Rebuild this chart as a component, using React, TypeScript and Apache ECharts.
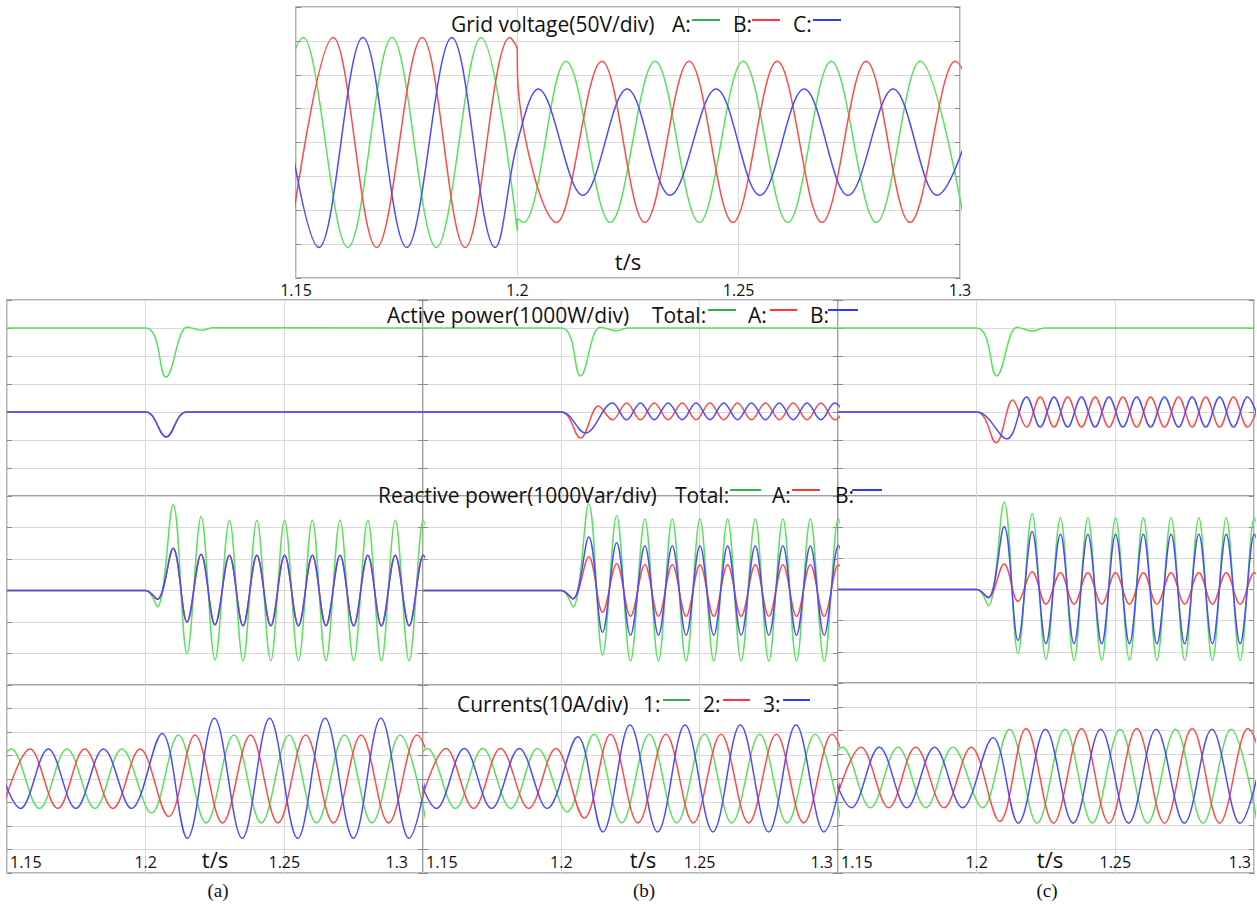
import React, { useEffect, useRef } from 'react';
import * as echarts from 'echarts';

type Pt = [number, number];

// ---------- Grid voltage (V): extremes ----------
const voltA: Pt[] = [
  [1.1416, -155], [1.1516, 155], [1.1617, -155], [1.1717, 155], [1.1817, -155], [1.1918, 155],
  [1.2, -131], [1.2, -112], [1.2014, -118], [1.211, 120], [1.221, -118], [1.2311, 120], [1.2411, -118],
  [1.251, 120], [1.2611, -118], [1.2709, 120], [1.2811, -118], [1.291, 120], [1.301, -118],
];
const voltB: Pt[] = [
  [1.1484, -155], [1.1584, 155], [1.1682, -155], [1.1785, 155], [1.1882, -155], [1.1983, 155],
  [1.2, 136], [1.2, 113], [1.2089, -118], [1.2191, 120], [1.2288, -118], [1.2388, 120], [1.2487, -118],
  [1.2587, 120], [1.2688, -118], [1.2788, 120], [1.2887, -118], [1.2989, 120], [1.3088, -118],
];
const voltC: Pt[] = [
  [1.1452, 155], [1.1552, -155], [1.1651, 155], [1.175, -155], [1.1852, 155], [1.195, -155],
  [1.2, 0], [1.2047, 79], [1.2148, -78], [1.2248, 79], [1.2345, -78], [1.2449, 79], [1.2548, -78],
  [1.2648, 79], [1.2747, -78], [1.2849, 79], [1.2948, -78], [1.3049, 79],
];

// ---------- Active power (W) ----------
const actTotA: Pt[] = [[1.15, 6000], [1.2, 6000], [1.2073, 4250], [1.215, 6040], [1.2201, 5920], [1.2245, 6010], [1.3, 6000]];
const actPhA_A: Pt[] = [[1.15, 3000], [1.2, 3000], [1.2074, 2110], [1.2148, 3000], [1.3, 3000]];
const actPhB_A: Pt[] = [[1.15, 3000], [1.2, 3000], [1.2074, 2110], [1.2148, 3000], [1.3, 3000]];

const actTotB: Pt[] = [[1.15, 6000], [1.2, 6000], [1.2069, 4290], [1.214, 6030], [1.2201, 5900], [1.224, 6000], [1.3, 6000]];
const actPhA_B: Pt[] = [
  [1.15, 3000], [1.2, 3000], [1.2069, 2070], [1.2134, 3210], [1.2185, 2720], [1.2236, 3320], [1.2286, 2720],
  [1.2336, 3320], [1.2386, 2720], [1.2437, 3320], [1.2487, 2720], [1.2537, 3320], [1.2587, 2720], [1.2637, 3320],
  [1.2687, 2720], [1.2738, 3320], [1.2788, 2720], [1.2838, 3320], [1.2888, 2720], [1.2938, 3320], [1.2988, 2720],
  [1.3038, 3320],
];
const actPhB_B: Pt[] = [
  [1.15, 3000], [1.2, 3000], [1.2087, 2250], [1.2185, 3320], [1.2236, 2720], [1.2286, 3320], [1.2336, 2720],
  [1.2386, 3320], [1.2437, 2720], [1.2487, 3320], [1.2537, 2720], [1.2587, 3320], [1.2637, 2720], [1.2687, 3320],
  [1.2738, 2720], [1.2788, 3320], [1.2838, 2720], [1.2888, 3320], [1.2938, 2720], [1.2988, 3320], [1.3038, 2720],
];

const actTotC: Pt[] = [[1.15, 6000], [1.2, 6000], [1.2072, 4290], [1.2146, 6030], [1.2203, 5890], [1.2245, 6000], [1.3, 6000]];
const actPhA_C: Pt[] = [
  [1.15, 3000], [1.2, 3000], [1.207, 1900], [1.213, 3430], [1.218, 2460], [1.2229, 3540], [1.2279, 2460],
  [1.2328, 3540], [1.2378, 2460], [1.2427, 3540], [1.2477, 2460], [1.2527, 3540], [1.2577, 2460], [1.2627, 3540],
  [1.2677, 2460], [1.2728, 3540], [1.2777, 2460], [1.2826, 3540], [1.2876, 2460], [1.2926, 3540], [1.2976, 2460],
  [1.3026, 3540],
];
const actPhB_C: Pt[] = [
  [1.15, 3000], [1.2, 3000], [1.2109, 2040], [1.218, 3540], [1.2229, 2460], [1.2279, 3540], [1.2328, 2460],
  [1.2378, 3540], [1.2427, 2460], [1.2477, 3540], [1.2527, 2460], [1.2577, 3540], [1.2627, 2460], [1.2677, 3540],
  [1.2728, 2460], [1.2777, 3540], [1.2826, 2460], [1.2876, 3540], [1.2926, 2460], [1.2976, 3540], [1.3026, 2460],
];

// ---------- Reactive power (Var): shared extreme times ----------
const reactT = [1.15, 1.2, 1.2042, 1.2099, 1.2149, 1.22, 1.225, 1.2302, 1.2351, 1.2401, 1.2451, 1.2501,
  1.2551, 1.2601, 1.265, 1.2701, 1.275, 1.2801, 1.285, 1.29, 1.295, 1.3001, 1.3051];
const reactTotA = [0, 0, -520, 2730, -2010, 2350, -2200, 2230, -2230, 2230, -2230, 2230, -2230, 2230, -2230, 2230, -2230, 2230, -2230, 2230, -2230, 2230, -2230];
const reactPhA_A = [0, 0, -280, 1340, -1000, 1150, -1090, 1120, -1120, 1120, -1120, 1120, -1120, 1120, -1120, 1120, -1120, 1120, -1120, 1120, -1120, 1120, -1120];
const reactPhB_A = [0, 0, -280, 1340, -1000, 1150, -1090, 1120, -1120, 1120, -1120, 1120, -1120, 1120, -1120, 1120, -1120, 1120, -1120, 1120, -1120, 1120, -1120];
const reactTotB = [0, 0, -520, 2750, -2050, 2370, -2240, 2270, -2240, 2270, -2240, 2270, -2240, 2270, -2240, 2270, -2240, 2270, -2240, 2270, -2240, 2270, -2240];
const reactPhA_B = [0, 0, -260, 1070, -690, 850, -820, 820, -820, 820, -820, 820, -820, 820, -820, 820, -820, 820, -820, 820, -820, 820, -820];
const reactPhB_B = [0, 0, -270, 1700, -1330, 1520, -1420, 1420, -1420, 1420, -1420, 1420, -1420, 1420, -1420, 1420, -1420, 1420, -1420, 1420, -1420, 1420, -1420];
const reactTotC = [0, 0, -520, 2810, -2050, 2430, -2240, 2300, -2270, 2300, -2270, 2300, -2270, 2300, -2270, 2300, -2270, 2300, -2270, 2300, -2270, 2300, -2270];
const reactPhA_C = [0, 0, -250, 820, -380, 570, -470, 540, -470, 540, -470, 540, -470, 540, -470, 540, -470, 540, -470, 540, -470, 540, -470];
const reactPhB_C = [0, 0, -270, 2020, -1640, 1860, -1740, 1770, -1740, 1770, -1740, 1770, -1740, 1770, -1740, 1770, -1740, 1770, -1740, 1770, -1740, 1770, -1740];

// ---------- Currents (A): extreme times per phase ----------
const cur1T = [1.1416, 1.1516, 1.1617, 1.1716, 1.1817, 1.1914, 1.2021, 1.2118, 1.2218, 1.2318, 1.2417, 1.2517, 1.2616, 1.2717, 1.2816, 1.2917, 1.3012];
const cur2T = [1.1484, 1.1583, 1.1683, 1.178, 1.1882, 1.198, 1.2083, 1.2178, 1.2277, 1.2378, 1.2477, 1.2577, 1.2677, 1.2777, 1.2876, 1.2978, 1.3078];
const cur3T = [1.1451, 1.1549, 1.1649, 1.1748, 1.1848, 1.1949, 1.2059, 1.215, 1.2248, 1.2348, 1.2447, 1.2548, 1.2647, 1.2749, 1.2848, 1.2949, 1.3048];
const curA1 = [-12.5, 12.8, -12.5, 12.8, -12.5, 12.8, -14.5, 18.7, -18.7, 18.7, -18.7, 18.7, -18.7, 18.7, -18.7, 18.7, -18.7];
const curA2 = [-12.5, 12.8, -12.5, 12.8, -12.5, 12.8, -16.0, 18.7, -18.7, 18.7, -18.7, 18.7, -18.7, 18.7, -18.7, 18.7, -18.7];
const curA3 = [12.8, -12.5, 12.8, -12.5, 12.8, -12.5, 19.4, -25.2, 25.8, -25.2, 25.8, -25.2, 25.8, -25.2, 25.8, -25.2, 25.8];
const curB1 = [-12.5, 13.0, -12.5, 13.0, -12.5, 13.0, -14.0, 19.0, -18.7, 19.0, -18.7, 19.0, -18.7, 19.0, -18.7, 19.0, -18.7];
const curB2 = [-12.5, 13.0, -12.5, 13.0, -12.5, 13.0, -16.6, 19.0, -18.7, 19.0, -18.7, 19.0, -18.7, 19.0, -18.7, 19.0, -18.7];
const curB3 = [13.0, -12.5, 13.0, -12.5, 13.0, -12.5, 18.0, -22.5, 23.0, -22.5, 23.0, -22.5, 23.0, -22.5, 23.0, -22.5, 23.0];
const curC1 = [-12.5, 13.0, -12.5, 13.0, -12.5, 13.0, -12.5, 20.5, -19.0, 20.5, -19.0, 20.5, -19.0, 20.5, -19.0, 20.5, -19.0];
const curC2 = [-12.5, 13.0, -12.5, 13.0, -12.5, 13.0, -18.3, 20.8, -19.0, 20.8, -19.0, 20.8, -19.0, 20.8, -19.0, 20.8, -19.0];
const curC3 = [13.0, -12.5, 13.0, -12.5, 13.0, -12.5, 17.0, -19.0, 20.5, -19.0, 20.5, -19.0, 20.5, -19.0, 20.5, -19.0, 20.5];

const timeRange = [1.15, 1.3];
const timeStep = 0.05;

// ---------- styling ----------
const GREEN = '#58e258';
const RED = '#ff4a4a';
const BLUE = '#4b4bff';
const LEG_GREEN = '#2fb04a';
const LEG_RED = '#ff3636';
const LEG_BLUE = '#2f38ff';
const FONT = "'Open Sans', 'Noto Sans', sans-serif";
const SERIF = "'Liberation Serif', 'DejaVu Serif', serif";
const GRID_LINE = '#d9d9d9';
const BORDER = '#9a9a9a';
const TITLE_SIZE = 21;

const zip = (t: number[], v: number[]): Pt[] => t.map((x, i) => [x, v[i]] as Pt);

function buildOption() {
  const grid: any[] = [];
  const xAxis: any[] = [];
  const yAxis: any[] = [];
  const series: any[] = [];

  const fmt = (v: number) => String(Number(v.toFixed(2)));
  const labelText = { fontSize: 16, color: '#111', fontFamily: FONT };

  const addPanel = (
    rect: { left: number; top: number; width: number; height: number },
    yr: [number, number, number],
    lines: [Pt[], string][],
    labels: 'none' | 'outside' | 'inside',
    maxPad = 3,
  ) => {
    const i = grid.length;
    grid.push({ ...rect, show: true, borderColor: BORDER, borderWidth: 1.5, backgroundColor: 'transparent', containLabel: false });
    const axisLabel: any =
      labels === 'none'
        ? { show: false }
        : labels === 'outside'
        ? { show: true, margin: 4, ...labelText, formatter: fmt }
        : {
            show: true, inside: true, margin: 3, ...labelText,
            alignMinLabel: 'left', alignMaxLabel: 'right',
            formatter: (v: number) =>
              v > timeRange[1] - 1e-6 ? `{mx|${fmt(v)}}` : v < timeRange[0] + 1e-6 ? `{mn|${fmt(v)}}` : fmt(v),
            rich: {
              mx: { ...labelText, padding: [0, maxPad, 0, 0] },
              mn: { ...labelText, padding: [0, 0, 0, 3] },
            },
          };
    xAxis.push({
      type: 'value', gridIndex: i, min: timeRange[0], max: timeRange[1], interval: timeStep,
      axisLine: { show: false }, axisTick: { show: false }, axisLabel,
      splitLine: { show: true, lineStyle: { color: GRID_LINE, width: 1 } },
    });
    const yBase = { type: 'value', gridIndex: i, min: yr[0], max: yr[1], interval: yr[2], axisLine: { show: false }, axisLabel: { show: false } };
    yAxis.push({ ...yBase, position: 'left', axisTick: { show: true, inside: true, length: 5, lineStyle: { color: '#8a8a8a' } }, splitLine: { show: true, lineStyle: { color: GRID_LINE, width: 1 } } });
    yAxis.push({ ...yBase, position: 'right', axisTick: { show: true, inside: true, length: 5, lineStyle: { color: '#8a8a8a' } }, splitLine: { show: false } });
    lines.forEach(([data, color]) => {
      series.push({
        type: 'line', xAxisIndex: i, yAxisIndex: 2 * i, data, smooth: 0.36, symbol: 'none', showSymbol: false,
        lineStyle: { color, width: 1.5 }, itemStyle: { color }, silent: true, clip: true, animation: false,
      });
    });
  };

  addPanel({ left: 296, top: 7, width: 664, height: 271 }, [-200, 200, 50], [[voltA, GREEN], [voltB, RED], [voltC, BLUE]], 'outside');

  const cols = [
    { left: 7, width: 416, reactH: 189, curTop: 685, maxPad: 15,
      act: [actTotA, actPhA_A, actPhB_A], react: [reactTotA, reactPhA_A, reactPhB_A], cur: [curA1, curA2, curA3] },
    { left: 423, width: 415, reactH: 189, curTop: 685, maxPad: 5,
      act: [actTotB, actPhA_B, actPhB_B], react: [reactTotB, reactPhA_B, reactPhB_B], cur: [curB1, curB2, curB3] },
    { left: 838, width: 416, reactH: 187, curTop: 683, maxPad: 3,
      act: [actTotC, actPhA_C, actPhB_C], react: [reactTotC, reactPhA_C, reactPhB_C], cur: [curC1, curC2, curC3] },
  ];
  cols.forEach((c) => {
    addPanel({ left: c.left, top: 300, width: c.width, height: 196 }, [0, 7000, 1000],
      [[c.act[0], GREEN], [c.act[1], RED], [c.act[2], BLUE]], 'none');
    addPanel({ left: c.left, top: 496, width: c.width, height: c.reactH }, [-3000, 3000, 1000],
      [[zip(reactT, c.react[0]), GREEN], [zip(reactT, c.react[1]), RED], [zip(reactT, c.react[2]), BLUE]], 'none');
    addPanel({ left: c.left, top: c.curTop, width: c.width, height: 873 - c.curTop }, [-40, 40, 10],
      [[zip(cur1T, c.cur[0]), GREEN], [zip(cur2T, c.cur[1]), RED], [zip(cur3T, c.cur[2]), BLUE]], 'inside', c.maxPad);
  });

  const txt = (s: string, x: number, y: number, size = TITLE_SIZE, align = 'left', family = FONT) => ({
    type: 'text', x, y, z: 100, silent: true,
    style: { text: s, fontSize: size, fontFamily: family, fill: '#111', textAlign: align, textVerticalAlign: 'middle', align, verticalAlign: 'middle' },
  });
  const seg = (x1: number, x2: number, y: number, color: string) => ({
    type: 'line', z: 100, silent: true, shape: { x1, y1: y, x2, y2: y }, style: { stroke: color, lineWidth: 2 },
  });

  const graphic = [
    txt('Grid voltage(50V/div)', 451, 24), txt('A:', 672, 24), seg(692, 720, 20, LEG_GREEN),
    txt('B:', 733, 24), seg(752, 780, 20, LEG_RED), txt('C:', 793, 24), seg(813, 841, 20, LEG_BLUE),

    txt('Active power(1000W/div)', 387, 315), txt('Total:', 652, 315), seg(708, 736, 310, LEG_GREEN),
    txt('A:', 748, 315), seg(770, 797, 310, LEG_RED), txt('B:', 810, 315), seg(828, 858, 310, LEG_BLUE),

    txt('Reactive power(1000Var/div)', 378, 495), txt('Total:', 675, 495), seg(730, 761, 490, LEG_GREEN),
    txt('A:', 772, 495), seg(792, 820, 490, LEG_RED), txt('B:', 835, 495), seg(852, 882, 490, LEG_BLUE),

    txt('Currents(10A/div)', 457, 704), txt('1:', 643, 704), seg(663, 690, 700, LEG_GREEN),
    txt('2:', 703, 704), seg(723, 750, 700, LEG_RED), txt('3:', 763, 704), seg(783, 810, 700, LEG_BLUE),

    txt('t/s', 628, 261, 22, 'center'),
    txt('t/s', 215, 859, 22, 'center'), txt('t/s', 643, 859, 22, 'center'), txt('t/s', 1050, 859, 22, 'center'),

    txt('(a)', 218, 890, 19, 'center', SERIF),
    txt('(b)', 644, 890, 19, 'center', SERIF),
    txt('(c)', 1047, 890, 19, 'center', SERIF),
  ];

  return { animation: false, backgroundColor: '#ffffff', grid, xAxis, yAxis, series, graphic };
}

export default function App() {
  const ref = useRef<HTMLDivElement>(null);
  useEffect(() => {
    if (!ref.current) return;
    const chart = echarts.init(ref.current, null, { renderer: 'svg' });
    chart.setOption(buildOption() as any);
    return () => chart.dispose();
  }, []);
  return (
    <div
      ref={ref}
      style={{ position: 'absolute', left: 0, top: 0, width: 1257, height: 908, background: '#fff' }}
    />
  );
}
